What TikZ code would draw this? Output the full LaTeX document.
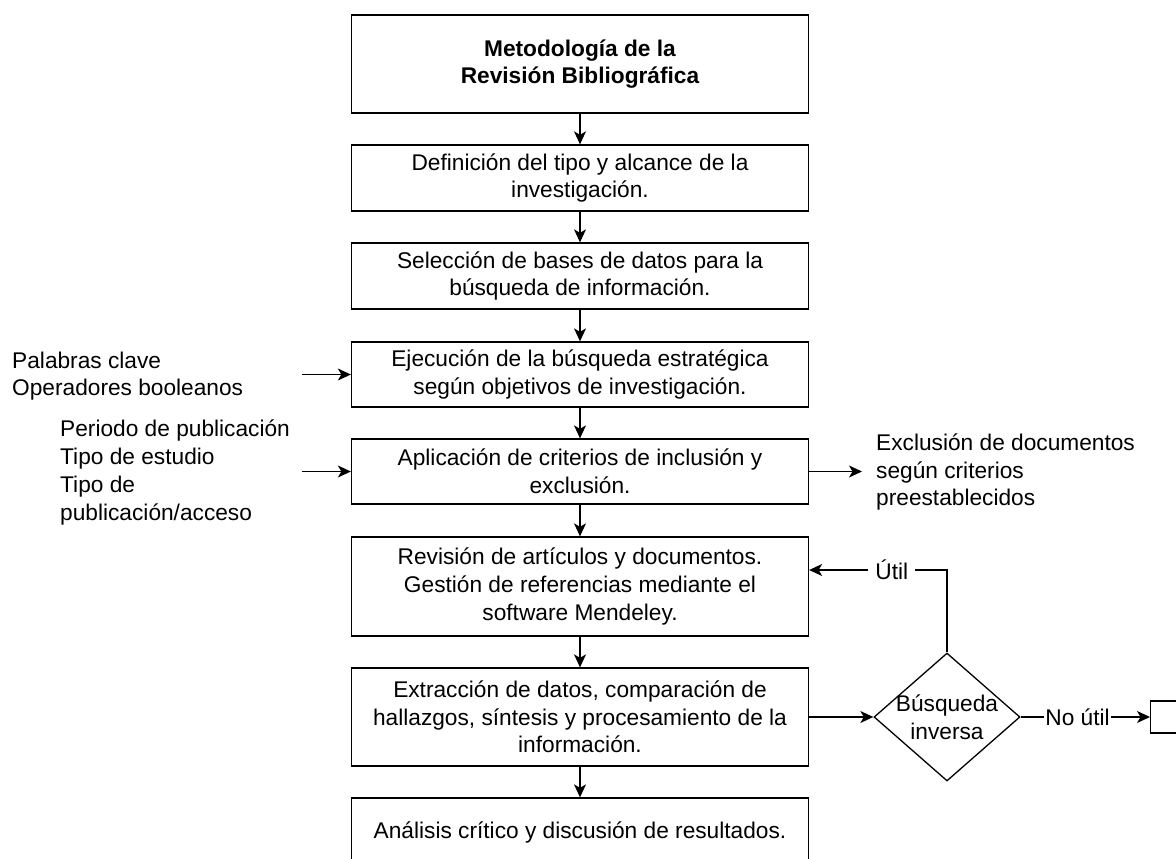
\documentclass[tikz,border=0pt]{standalone}
\usepackage{fontspec}
\setmainfont{Liberation Sans}
\usetikzlibrary{shapes.geometric, arrows.meta}
\begin{document}
\begin{tikzpicture}[x=1pt,y=-1pt,
  txt/.style={font=\fontsize{22.7}{27.7}\selectfont, text=black},
  box/.style={txt, draw=black, line width=1.3pt, minimum width=457pt, inner sep=0pt, align=center},
  arr/.style={draw=black, line width=1.3pt, -{Stealth[length=13pt,width=12pt,inset=3.5pt]}},
  lbl/.style={txt, fill=white}
]
\useasboundingbox (0,0) rectangle (1176,859);
\clip (0,0) rectangle (1176,859);
\fill[white] (0,0) rectangle (1176,859);

% main column
\node[box, font=\fontsize{22.7}{26.5}\selectfont\bfseries, minimum height=98pt] (t) at (580,64) {Metodología de la\\Revisión Bibliográfica};
\node[box, minimum height=66pt] (b2) at (580,178) {Definición del tipo y alcance de la\\investigación.};
\node[box, minimum height=66pt] (b3) at (580,276) {Selección de bases de datos para la\\búsqueda de información.};
\node[box, minimum height=65pt] (b4) at (580,374.5) {Ejecución de la búsqueda estratégica\\según objetivos de investigación.};
\node[box, minimum height=65pt] (b5) at (580,471.5) {Aplicación de criterios de inclusión y\\exclusión.};
\node[box, minimum height=99pt] (b6) at (580,586.5) {Revisión de artículos y documentos.\\Gestión de referencias mediante el\\software Mendeley.};
\node[box, minimum height=98pt] (b7) at (580,717) {Extracción de datos, comparación de\\hallazgos, síntesis y procesamiento de la\\información.};
\node[box, minimum height=68pt] (b8) at (580,832) {Análisis crítico y discusión de resultados.};

\draw[arr] (t.south) -- (b2.north);
\draw[arr] (b2.south) -- (b3.north);
\draw[arr] (b3.south) -- (b4.north);
\draw[arr] (b4.south) -- (b5.north);
\draw[arr] (b5.south) -- (b6.north);
\draw[arr] (b6.south) -- (b7.north);
\draw[arr] (b7.south) -- (b8.north);

% side texts
\node[txt, align=left, anchor=west, inner sep=0pt] (k1) at (12,376) {Palabras clave\\Operadores booleanos};
\node[txt, align=left, anchor=west, inner sep=0pt] (k2) at (60,472.5) {Periodo de publicación\\Tipo de estudio\\Tipo de\\publicación/acceso};
\node[txt, align=left, anchor=west, inner sep=0pt] (ex) at (876,472) {Exclusión de documentos\\según criterios\\preestablecidos};
\coordinate (c1) at (302,374.5);
\coordinate (c2) at (302,471.5);
\coordinate (c3) at (862,471.5);
\draw[arr] (c1) -- (b4.west);
\draw[arr] (c2) -- (b5.west);
\draw[arr] (b5.east) -- (c3);

% decision
\node[draw=black, diamond, line width=1.3pt, minimum width=146pt, minimum height=128pt, inner sep=0pt,
  label={[txt, align=center]center:{Búsqueda\\inversa}}] (d) at (947,717) {};
\node[draw=black, line width=1.3pt, minimum width=60pt, minimum height=32pt, anchor=west, inner sep=0pt] (e) at (1150,717) {};

\draw[arr] (b7.east) -- (d.west);
\draw[arr] (d.east) -- node[lbl, inner sep=1pt, pos=0.44] {No útil} (e.west);
\draw[arr] (d.north) |- node[lbl, inner xsep=7pt, inner ysep=2pt, pos=0.7] {Útil} ([yshift=16.5pt]b6.east);
\end{tikzpicture}
\end{document}
